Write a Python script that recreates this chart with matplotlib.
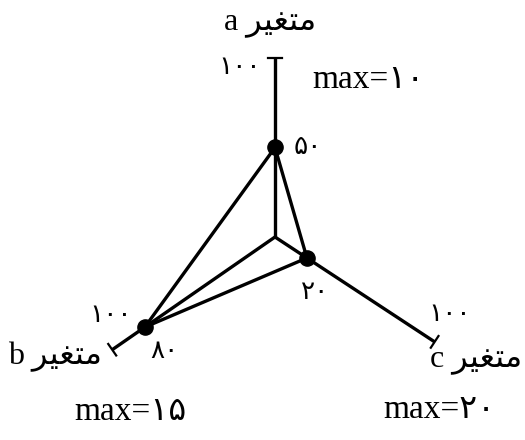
import matplotlib.pyplot as plt
import numpy as np

plt.rcParams['font.family'] = ['Liberation Serif', 'DejaVu Sans']

# "متغیر" written with presentation forms in left-to-right glyph order
WORD = '\ufeae\ufef4\ufed0\ufe98\ufee3'

names = ['a', 'b', 'c']
values = [50, 80, 20]                      # percent along each axis
value_labels = ['۵۰', '۸۰', '۲۰']
max_labels = ['max=۱۰', 'max=۱۵', 'max=۲۰']
full_label = '۱۰۰'

# axis directions (deg) and lengths
angles = np.radians([90, 214.7, 326.7])
lengths = np.array([179, 198, 191])

fig = plt.figure(figsize=(5.25, 4.4), dpi=100)
ax = fig.add_axes([0, 0, 1, 1])
ax.set_xlim(-275, 250)
ax.set_ylim(-203, 237)
ax.axis('off')

ex = lengths * np.cos(angles)
ey = lengths * np.sin(angles)

# axes with a small cap at the end
cap = 7
for x1, y1, t in zip(ex, ey, angles):
    ax.plot([0, x1], [0, y1], color='k', lw=2.4, solid_capstyle='butt')
    px, py = -np.sin(t), np.cos(t)
    ax.plot([x1 - cap * px, x1 + cap * px], [y1 - cap * py, y1 + cap * py],
            color='k', lw=1.6)

# data triangle
r = np.array(values) / 100 * lengths
xs = r * np.cos(angles)
ys = r * np.sin(angles)
ax.plot(np.append(xs, xs[0]), np.append(ys, ys[0]), color='k', lw=2.4)
ax.scatter(xs, ys, s=120, color='k', zorder=3)

def label(txt, xy, off, size):
    ax.annotate(txt, xy, xytext=off, textcoords='offset pixels',
                ha='center', va='center', fontsize=size)

name_off = [(-5, 35), (-57, -7), (41, -19)]
full_off = [(-35, -10), (-2, 34), (15, 27)]
max_off = [(93, -22), (18, -62), (5, -68)]
val_off = [(33, 0), (20, -25), (8, -35)]

for i in range(3):
    end = (ex[i], ey[i])
    label(names[i] + ' ' + WORD, end, name_off[i], 23)
    label(full_label, end, full_off[i], 19)
    label(max_labels[i], end, max_off[i], 24)
    label(value_labels[i], (xs[i], ys[i]), val_off[i], 19)

plt.savefig('out.png', dpi=100)
